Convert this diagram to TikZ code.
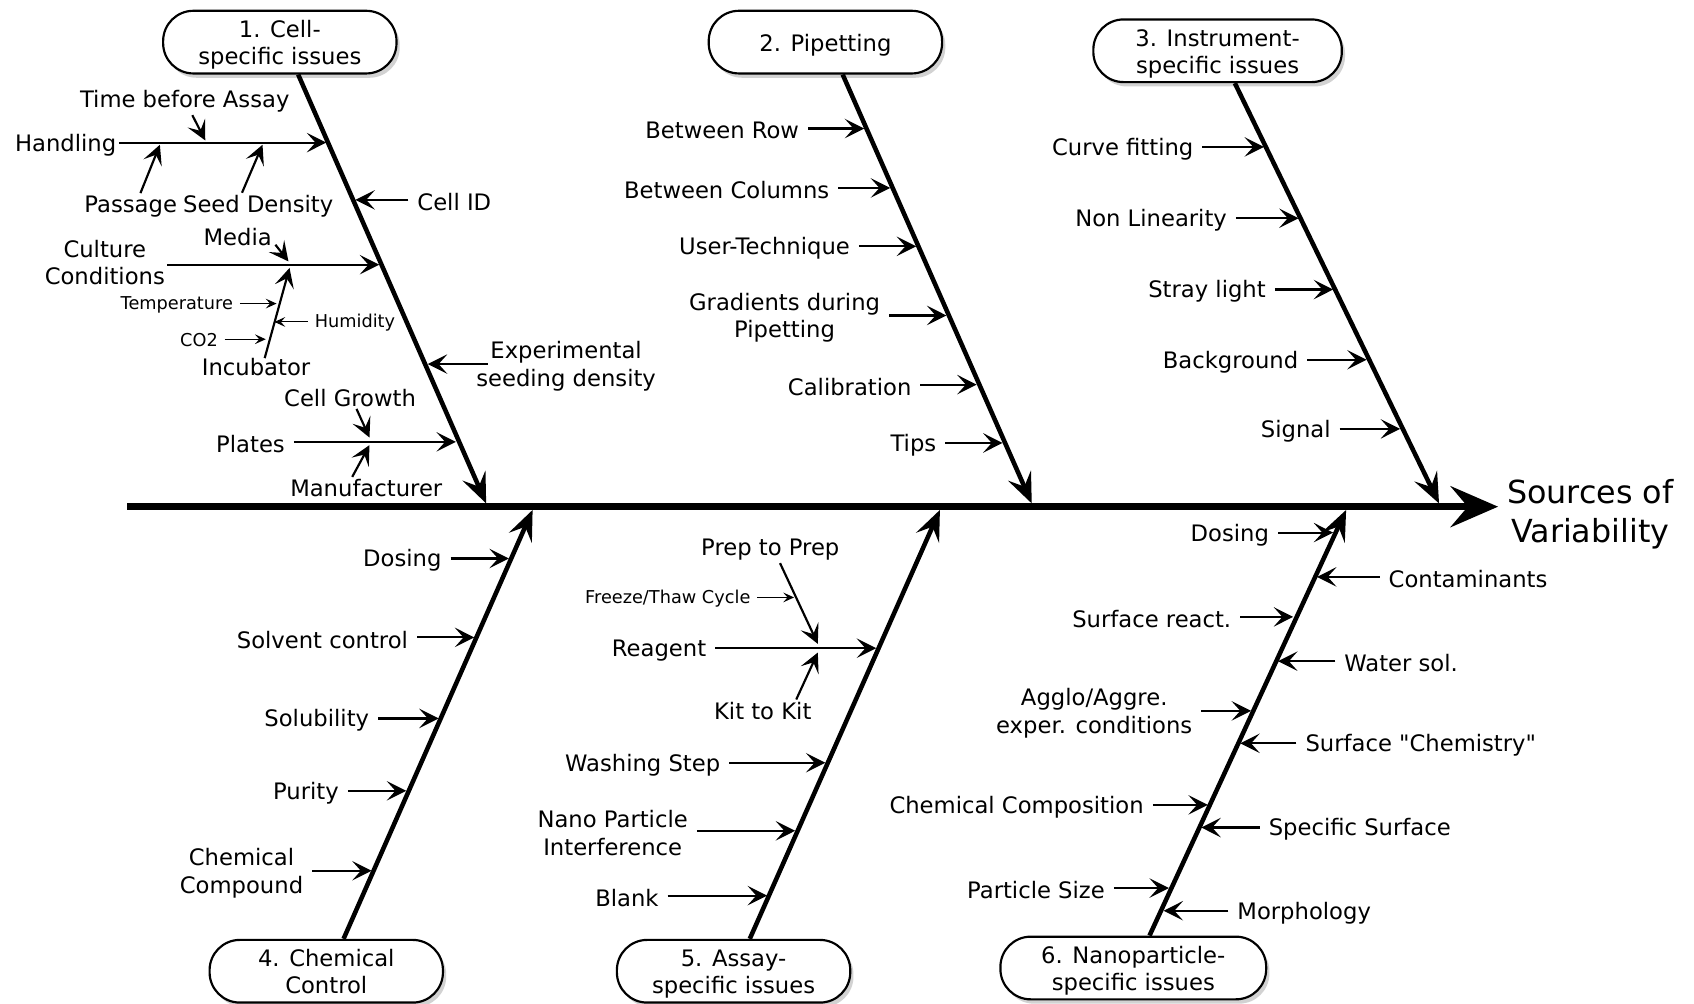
\documentclass[tikz,border=0pt]{standalone}
\usepackage{fontspec}
\setmainfont{DejaVu Sans}[Ligatures=TeXOff]
\usetikzlibrary{arrows.meta,calc,shadows}
\newcommand\myRC[5]{\node[lbl,anchor=east] (#1) at (#2,#3) {#5}; \coordinate (#1-t) at (#4,#3); \draw[sarr] (#1.east |- #1-t) -- (#1-t);}
\newcommand\myLC[5]{\node[lbl,anchor=west] (#1) at (#2,#3) {#5}; \coordinate (#1-t) at (#4,#3); \draw[sarr] (#1.west |- #1-t) -- (#1-t);}
\newcommand\boxstrut{\rule{0pt}{10.5pt}}
\begin{document}
\begin{tikzpicture}[x=0.5pt,y=-0.5pt,
  lbl/.style={font=\fontsize{10.5}{12.8}\selectfont, align=center, inner xsep=4pt, inner ysep=1pt, yshift=-1pt},
  sml/.style={font=\fontsize{8.2}{10}\selectfont, inner xsep=3pt, inner ysep=1pt, yshift=-0.5pt},
  cat/.style={draw, line width=1pt, fill=white, rounded corners=14pt, minimum height=29pt, inner ysep=0pt, align=center,
    font=\fontsize{10.5}{12.5}\selectfont, drop shadow={opacity=0.35,shadow xshift=1.5pt,shadow yshift=-2pt}},
  spine/.style={line width=3pt, -{Stealth[length=22pt,width=19pt,inset=8pt]}},
  bone/.style={line width=2.1pt, -{Stealth[length=14pt,width=11.5pt,inset=5.5pt]}},
  sarr/.style={line width=1pt, -{Stealth[length=9pt,width=9pt,inset=4pt]}},
  tarr/.style={line width=0.5pt, -{Stealth[length=5pt,width=4.5pt,inset=2pt]}},
]
\fill[white] (0,0) rectangle (1568,929);
\useasboundingbox (0,0) rectangle (1568,929);

% category boxes
\node[cat, minimum width=108pt] (c1) at (259,39) {\boxstrut 1. Cell-\\specific issues};
\node[cat, minimum width=108pt] (c2) at (764,39) {\boxstrut 2. Pipetting};
\node[cat, minimum width=115pt] (c3) at (1127,47) {\boxstrut 3. Instrument-\\specific issues};
\node[cat, minimum width=108pt] (c4) at (302,899) {4. Chemical\\Control};
\node[cat, minimum width=108pt] (c5) at (679,899) {\boxstrut 5. Assay-\\specific issues};
\node[cat, minimum width=123pt] (c6) at (1049,896) {\boxstrut 6. Nanoparticle-\\specific issues};

% spine
\node[lbl, font=\fontsize{14.7}{18}\selectfont, inner xsep=2pt] (src) at (1472,474) {Sources of\\Variability};
\coordinate (s0) at (118,469);
\draw[spine] (s0) -- ($(src.west |- s0)+(-4,0)$);

% bones
\coordinate (j1) at (450,466);
\coordinate (j2) at (955,466);
\coordinate (j3) at (1332,466);
\coordinate (j4) at (493,472);
\coordinate (j5) at (870,472);
\coordinate (j6) at (1246,472);
\draw[bone] ($(c1.south)+(17,0)$) -- (j1);
\draw[bone] ($(c2.south)+(16,0)$) -- (j2);
\draw[bone] ($(c3.south)+(16,0)$) -- (j3);
\draw[bone] ($(c4.north)+(16,0)$) -- (j4);
\draw[bone] ($(c5.north)+(15,0)$) -- (j5);
\draw[bone] ($(c6.north)+(15,0)$) -- (j6);

% ---- bone 1 ----
\node[lbl,anchor=east,inner xsep=1pt] (hd) at (110,132) {Handling};
\coordinate (hd-t) at (302,132);
\draw[sarr] (hd.east |- hd-t) -- (hd-t);
\node[lbl] (tba) at (171,92) {Time before Assay};
\coordinate (tba-t) at (190,130);
\draw[sarr] ($(tba.south)+(7,0)$) -- (tba-t);
\node[lbl] (psg) at (121,189) {Passage};
\coordinate (psg-t) at (148,134);
\draw[sarr] ($(psg.north)+(9,0)$) -- (psg-t);
\node[lbl] (sd) at (239,189) {Seed Density};
\coordinate (sd-t) at (243,134);
\draw[sarr] ($(sd.north)+(-15,0)$) -- (sd-t);
\myLC{cid}{378}{185}{329}{Cell ID}

\node[lbl,inner xsep=1pt] (cc) at (97,241) {Culture\\Conditions};
\coordinate (cc-t) at (351,245);
\draw[sarr] (cc.east |- cc-t) -- (cc-t);
\node[lbl] (md) at (220,217) {Media};
\coordinate (md-t) at (267,242);
\draw[sarr] ($(md.south east)+(-5,-3)$) -- (md-t);
\node[lbl] (inc) at (237,338) {Incubator};
\coordinate (inc-t) at (268,248);
\draw[sarr] ($(inc.north)+(8,2)$) -- (inc-t);
\node[sml,anchor=east] (tmp) at (222,281) {Temperature};
\coordinate (tmp-t) at (256,281);
\draw[tarr] (tmp.east |- tmp-t) -- (tmp-t);
\node[sml,anchor=west] (hum) at (285,298) {Humidity};
\coordinate (hum-t) at (254,298);
\draw[tarr] (hum.west |- hum-t) -- (hum-t);
\node[sml,anchor=east] (co2) at (208,314) {CO2};
\coordinate (co2-t) at (246,314);
\draw[tarr] (co2.east |- co2-t) -- (co2-t);

\node[lbl] (exs) at (524,337) {Experimental\\seeding density};
\coordinate (exs-t) at (396,337);
\draw[sarr] ($(exs.west |- exs-t)+(19,0)$) -- (exs-t);

\node[lbl,anchor=east] (pl) at (272,409) {Plates};
\coordinate (pl-t) at (422,409);
\draw[sarr] (pl.east |- pl-t) -- (pl-t);
\node[lbl] (cg) at (324,366) {Cell Growth};
\coordinate (cg-t) at (342,405);
\draw[sarr] ($(cg.south)+(6,0)$) -- (cg-t);
\node[lbl] (mf) at (339,450) {Manufacturer};
\coordinate (mf-t) at (342,412);
\draw[sarr] ($(mf.north)+(-13,0)$) -- (mf-t);

% ---- bone 2 ----
\myRC{br}{748}{119}{800}{Between Row}
\myRC{bc}{776}{174}{824}{Between Columns}
\myRC{ut}{795}{228}{848}{User-Technique}
\myRC{gd}{823}{292}{876}{Gradients during\\Pipetting}
\myRC{cal}{852}{356}{904}{Calibration}
\myRC{tps}{875}{410}{928}{Tips}

% ---- bone 3 ----
\myRC{cf}{1113}{136}{1170}{Curve fitting}
\myRC{nl}{1144}{202}{1202}{Non Linearity}
\myRC{sl}{1180}{268}{1234}{Stray light}
\myRC{bg}{1210}{333}{1265}{Background}
\myRC{sig}{1240}{397}{1296}{Signal}

% ---- bone 4 ----
\myRC{dsf}{417}{517}{471}{Dosing}
\myRC{sc}{386}{590}{439}{Solvent control}
\myRC{sol}{350}{665}{406}{Solubility}
\myRC{pur}{322}{732}{376}{Purity}
\myRC{ccp}{289}{806}{344}{Chemical\\Compound}

% ---- bone 5 ----
\node[lbl,anchor=east] (rg) at (662,600) {Reagent};
\coordinate (rg-t) at (811,600);
\draw[sarr] (rg.east |- rg-t) -- (rg-t);
\node[lbl] (pp) at (713,507) {Prep to Prep};
\coordinate (pp-t) at (757,596);
\draw[sarr] ($(pp.south)+(9,0)$) -- (pp-t);
\node[sml,anchor=east] (ft) at (701,553) {Freeze/Thaw Cycle};
\coordinate (ft-t) at (735,553);
\draw[tarr] (ft.east |- ft-t) -- (ft-t);
\node[lbl] (kk) at (706,656) {Kit to Kit};
\coordinate (kk-t) at (757,604);
\draw[sarr] ($(kk.north)+(31,0)$) -- (kk-t);
\myRC{wst}{675}{706}{764}{Washing Step}
\myRC{npi}{645}{769}{736}{Nano Particle\\Interference}
\myRC{bl}{618}{829}{710}{Blank}

% ---- bone 6 ----
\myRC{dss}{1183}{493}{1234}{Dosing}
\myLC{con}{1277}{534}{1219}{Contaminants}
\myRC{sr}{1148}{571}{1197}{Surface react.}
\myLC{wsl}{1236}{612}{1183}{Water sol.}
\myRC{ag}{1112}{658}{1158}{Agglo/Aggre.\\exper. conditions}
\myLC{sch}{1200}{688}{1148}{Surface "Chemistry"}
\myRC{chc}{1067}{745}{1118}{Chemical Composition}
\myLC{ssf}{1166}{766}{1112}{Specific Surface}
\myRC{psz}{1031}{822}{1082}{Particle Size}
\myLC{mor}{1137}{843}{1077}{Morphology}
\end{tikzpicture}
\end{document}
